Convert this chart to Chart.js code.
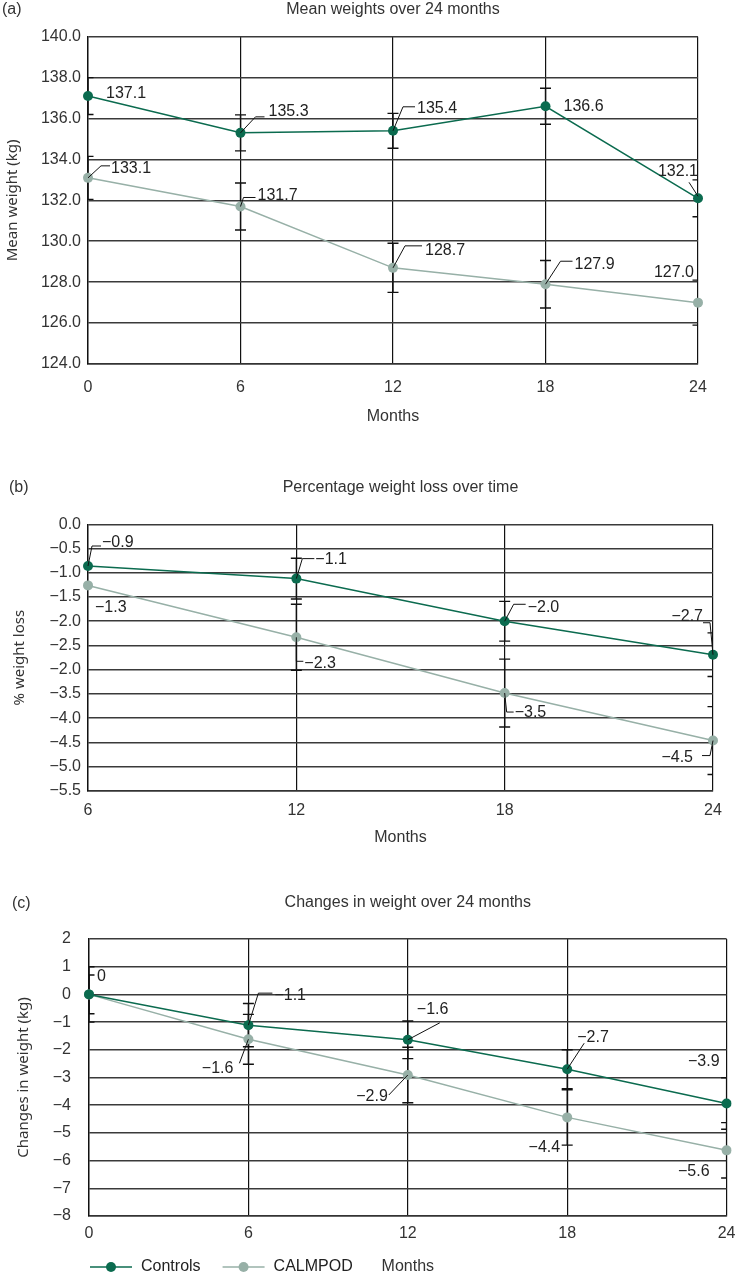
<!DOCTYPE html>
<html>
<head>
<meta charset="utf-8">
<script src="https://cdn.jsdelivr.net/npm/chart.js@4.4.1/dist/chart.umd.min.js"></script>
<style>
    body { margin: 0; background: #fff; }
    canvas { display: block; }
</style>
</head>
<body>
<canvas id="meanChart" width="743" height="440"></canvas>
<canvas id="pctChart" width="743" height="420"></canvas>
<canvas id="changeChart" width="743" height="417"></canvas>
<script>
// values
var months = ['0', '6', '12', '18', '24'];
var monthsPct = ['6', '12', '18', '24'];

var meanControls = [137.1, 135.3, 135.4, 136.6, 132.1];
var meanCalmpod = [133.1, 131.7, 128.7, 127.9, 127.0];
var meanControlsErr = [0.9, 0.88, 0.85, 0.88, 0.9];
var meanCalmpodErr = [1.05, 1.15, 1.2, 1.16, 1.1];

var pctControls = [-0.86, -1.12, -2.0, -2.69];
var pctCalmpod = [-1.26, -2.33, -3.48, -4.46];
var pctControlsErr = [null, 0.42, 0.41, 0.45];
var pctCalmpodErr = [null, 0.68, 0.7, 0.7];
var pctTickValues = [0, -0.5, -1, -1.5, -2, -2.5, -3, -3.5, -4, -4.5, -5, -5.5];
var pctTickLabels = ['0.0', '\u22120.5', '\u22121.0', '\u22121.5', '\u22122.0', '\u22122.5', '\u22122.0', '\u22123.5', '\u22124.0', '\u22124.5', '\u22125.0', '\u22125.5'];

var changeControls = [0, -1.11, -1.64, -2.70, -3.94];
var changeCalmpod = [0, -1.62, -2.91, -4.44, -5.63];
var changeControlsErr = [0.7, 0.78, 0.68, 0.7, 0.93];
var changeCalmpodErr = [1.0, 0.9, 1.0, 1.0, 1.0];

// where each value label sits relative to its point (px), with optional leader line
var meanControlsSpots = [
    { dx: 18, dy: -2 },
    { dx: 28, dy: -21, leader: [[0, 0], [15, -16], [24, -16]] },
    { dx: 24, dy: -22, leader: [[0, 0], [10, -24], [22, -24]] },
    { dx: 18, dy: 0 },
    { dx: 0, dy: -27, align: 'right', leader: [[-9, -16], [0, -2]] }
];
var meanCalmpodSpots = [
    { dx: 23, dy: -9, leader: [[0, 0], [13, -12], [22, -12]] },
    { dx: 17, dy: -11, leader: [[0, 0], [3, -9], [15, -9]] },
    { dx: 32, dy: -17, leader: [[0, 0], [12, -22], [29, -22]] },
    { dx: 29, dy: -20, leader: [[0, 0], [15, -23], [27, -23]] },
    { dx: -4, dy: -30, align: 'right' }
];
var pctControlsSpots = [
    { dx: 14, dy: -23, leader: [[0, 0], [4, -20], [13, -20]] },
    { dx: 19, dy: -19, leader: [[0, 0], [6, -20], [18, -20]] },
    { dx: 23, dy: -14, leader: [[0, 0], [9, -17], [21, -17]] },
    { dx: -10, dy: -38, align: 'right', leader: [[0, 0], [-3, -32], [-10, -32]] }
];
var pctCalmpodSpots = [
    { dx: 7, dy: 22 },
    { dx: 8, dy: 26, leader: [[0, 0], [0, 24], [7, 24]] },
    { dx: 10, dy: 20, leader: [[0, 0], [2, 19], [9, 19]] },
    { dx: -20, dy: 17, align: 'right', leader: [[0, 0], [-3, 15], [-11, 15]] }
];
var changeControlsSpots = [
    { dx: 8, dy: -18 },
    { dx: 26, dy: -30, leader: [[0, 0], [10, -32], [24, -32]] },
    { dx: 9, dy: -30, leader: [[0, 0], [32, -17]] },
    { dx: 10, dy: -32, leader: [[0, 0], [17, -26]] },
    { dx: -7, dy: -42, align: 'right' }
];
var changeCalmpodSpots = [
    null,
    { dx: -15, dy: 29, align: 'right', leader: [[0, 0], [-9, 24]] },
    { dx: -20, dy: 22, align: 'right', leader: [[0, 0], [-19, 20]] },
    { dx: -7, dy: 30, align: 'right' },
    { dx: -17, dy: 21, align: 'right' }
];

var FONT = '"Liberation Sans", Arial, sans-serif';
var controlsColor = '#0b6b4f';
var calmpodColor = '#97b0a7';

function signed(v, digits) {
    var s = Math.abs(v).toFixed(digits);
    return (v < 0 && Number(s) !== 0 ? '\u2212' : '') + s;
}

var errorBarPlugin = {
    id: 'errorBars',
    beforeDatasetsDraw: function (chart) {
        var ctx = chart.ctx, area = chart.chartArea, yScale = chart.scales.y;
        ctx.save();
        ctx.beginPath();
        ctx.rect(area.left, area.top, area.right - area.left, area.bottom - area.top);
        ctx.clip();
        ctx.strokeStyle = '#111';
        ctx.lineWidth = 1.4;
        chart.data.datasets.forEach(function (ds, i) {
            var meta = chart.getDatasetMeta(i);
            ds.errors.forEach(function (err, j) {
                if (err == null) return;
                var x = meta.data[j].x;
                var top = yScale.getPixelForValue(ds.data[j] + err);
                var bottom = yScale.getPixelForValue(ds.data[j] - err);
                ctx.beginPath();
                ctx.moveTo(x, top); ctx.lineTo(x, bottom);
                ctx.moveTo(x - 5.5, top); ctx.lineTo(x + 5.5, top);
                ctx.moveTo(x - 5.5, bottom); ctx.lineTo(x + 5.5, bottom);
                ctx.stroke();
            });
        });
        ctx.restore();
    }
};

var valueLabelPlugin = {
    id: 'valueLabels',
    afterDatasetsDraw: function (chart, args, opts) {
        var ctx = chart.ctx;
        ctx.save();
        ctx.font = '16px ' + FONT;
        ctx.fillStyle = '#222';
        ctx.strokeStyle = '#111';
        ctx.lineWidth = 1;
        ctx.textBaseline = 'middle';
        chart.data.datasets.forEach(function (ds, i) {
            var meta = chart.getDatasetMeta(i);
            ds.labelSpots.forEach(function (spot, j) {
                if (!spot) return;
                var p = meta.data[j];
                if (spot.leader) {
                    ctx.beginPath();
                    spot.leader.forEach(function (pt, k) {
                        if (k === 0) ctx.moveTo(p.x + pt[0], p.y + pt[1]);
                        else ctx.lineTo(p.x + pt[0], p.y + pt[1]);
                    });
                    ctx.stroke();
                }
                ctx.textAlign = spot.align || 'left';
                ctx.fillText(opts.format(ds.data[j]), p.x + spot.dx, p.y + spot.dy);
            });
        });
        ctx.restore();
    }
};

var panelLetterPlugin = {
    id: 'panelLetter',
    afterDraw: function (chart, args, opts) {
        var ctx = chart.ctx;
        ctx.save();
        ctx.font = '16px ' + FONT;
        ctx.fillStyle = '#333';
        ctx.textBaseline = 'middle';
        ctx.textAlign = 'left';
        ctx.fillText(opts.text, opts.x, opts.y);
        ctx.restore();
    }
};

var lineLegendPlugin = {
    id: 'lineLegend',
    afterDraw: function (chart, args, opts) {
        var ctx = chart.ctx, x = chart.chartArea.left + 1, y = opts.y;
        ctx.save();
        ctx.font = '16px ' + FONT;
        ctx.textBaseline = 'middle';
        ctx.textAlign = 'left';
        chart.data.datasets.forEach(function (ds) {
            ctx.strokeStyle = ds.borderColor;
            ctx.lineWidth = 1.5;
            ctx.beginPath();
            ctx.moveTo(x, y); ctx.lineTo(x + 42, y);
            ctx.stroke();
            ctx.fillStyle = ds.pointBackgroundColor;
            ctx.beginPath();
            ctx.arc(x + 21, y, 5, 0, Math.PI * 2);
            ctx.fill();
            ctx.fillStyle = '#222';
            ctx.fillText(ds.label, x + 51, y);
            x += 51 + ctx.measureText(ds.label).width + 22;
        });
        ctx.restore();
    }
};

function series(label, color, values, errors, spots) {
    return {
        label: label,
        data: values,
        errors: errors,
        labelSpots: spots,
        borderColor: color,
        backgroundColor: color,
        pointBackgroundColor: color,
        pointBorderWidth: 0,
        pointRadius: 5,
        borderWidth: 1.5,
        tension: 0,
        fill: false
    };
}

function buildChart(id, p) {
    var plugins = [errorBarPlugin, valueLabelPlugin, panelLetterPlugin];
    if (p.legendY) plugins.push(lineLegendPlugin);
    return new Chart(document.getElementById(id), {
        type: 'line',
        data: { labels: p.labels, datasets: p.datasets },
        plugins: plugins,
        options: {
            responsive: false,
            animation: false,
            layout: { padding: { left: 0, right: p.padRight, top: 0, bottom: 0 } },
            plugins: {
                legend: { display: false },
                tooltip: { enabled: false },
                title: {
                    display: true,
                    text: p.title,
                    fullSize: false,
                    color: '#333',
                    font: { size: 16, weight: 'normal', family: FONT },
                    padding: { top: p.titleTop, bottom: p.titleBottom }
                },
                valueLabels: { format: p.format },
                panelLetter: { text: p.letter, x: p.letterX, y: p.letterY },
                lineLegend: { y: p.legendY }
            },
            scales: {
                x: {
                    grid: { color: '#111', lineWidth: 1.2, drawTicks: false },
                    border: { color: '#333', width: 1.5 },
                    ticks: { padding: p.xTickPad, color: '#333', font: { size: 16, family: FONT } },
                    title: {
                        display: true, text: 'Months', color: '#333',
                        font: { size: 16, family: FONT },
                        padding: { top: 0, bottom: p.xTitlePad }
                    },
                    afterFit: function (scale) { scale.height = p.xHeight; }
                },
                y: {
                    min: p.yMin,
                    max: p.yMax,
                    grid: { color: '#3a3a3a', lineWidth: 1.6, drawTicks: false },
                    border: { color: '#111', width: 1.4 },
                    ticks: {
                        stepSize: p.yStep,
                        padding: p.yTickPad,
                        color: '#333',
                        font: { size: 16, family: FONT },
                        callback: p.yTick
                    },
                    title: {
                        display: true, text: p.yTitle, color: '#333',
                        font: { size: 15, family: '"Noto Sans", "DejaVu Sans", sans-serif' },
                        padding: { top: p.yTitlePad, bottom: 0 }
                    },
                    afterFit: function (scale) { scale.width = p.yWidth; }
                }
            }
        }
    });
}

document.addEventListener('DOMContentLoaded', function () {
    buildChart('meanChart', {
        labels: months,
        datasets: [
            series('Controls', controlsColor, meanControls, meanControlsErr, meanControlsSpots),
            series('CALMPOD', calmpodColor, meanCalmpod, meanCalmpodErr, meanCalmpodSpots)
        ],
        title: 'Mean weights over 24 months',
        letter: '(a)', letterX: 2, letterY: 10,
        titleTop: 0, titleBottom: 17.5,
        padRight: 45,
        xHeight: 76, xTickPad: 14, xTitlePad: 13.4,
        yWidth: 88, yTickPad: 7, yTitlePad: 4,
        yMin: 124, yMax: 140, yStep: 2,
        yTitle: 'Mean weight (kg)',
        yTick: function (v) { return v.toFixed(1); },
        format: function (v) { return signed(v, 1); }
    });

    buildChart('pctChart', {
        labels: monthsPct,
        datasets: [
            series('Controls', controlsColor, pctControls, pctControlsErr, pctControlsSpots),
            series('CALMPOD', calmpodColor, pctCalmpod, pctCalmpodErr, pctCalmpodSpots)
        ],
        title: 'Percentage weight loss over time',
        letter: '(b)', letterX: 9, letterY: 48,
        titleTop: 38.4, titleBottom: 26.7,
        padRight: 30,
        xHeight: 69, xTickPad: 9.5, xTitlePad: 12.4,
        yWidth: 88, yTickPad: 7, yTitlePad: 11,
        yMin: -5.5, yMax: 0, yStep: 0.5,
        yTitle: '% weight loss',
        yTick: function (v) {
            for (var i = 0; i < pctTickValues.length; i++) {
                if (Math.abs(pctTickValues[i] - v) < 1e-6) return pctTickLabels[i];
            }
            return '';
        },
        format: function (v) { return signed(v, 1); }
    });

    buildChart('changeChart', {
        labels: months,
        datasets: [
            series('Controls', controlsColor, changeControls, changeControlsErr, changeControlsSpots),
            series('CALMPOD', calmpodColor, changeCalmpod, changeCalmpodErr, changeCalmpodSpots)
        ],
        title: 'Changes in weight over 24 months',
        letter: '(c)', letterX: 12, letterY: 44,
        titleTop: 33.1, titleBottom: 26.7,
        padRight: 8,
        xHeight: 61, xTickPad: 7.5, xTitlePad: 0.4,
        yWidth: 89, yTickPad: 18, yTitlePad: 15,
        yMin: -8, yMax: 2, yStep: 1,
        yTitle: 'Changes in weight (kg)',
        yTick: function (v) { return signed(v, 0); },
        format: function (v) { return v === 0 ? '0' : signed(v, 1); },
        legendY: 407
    });
});
</script>
</body>
</html>
